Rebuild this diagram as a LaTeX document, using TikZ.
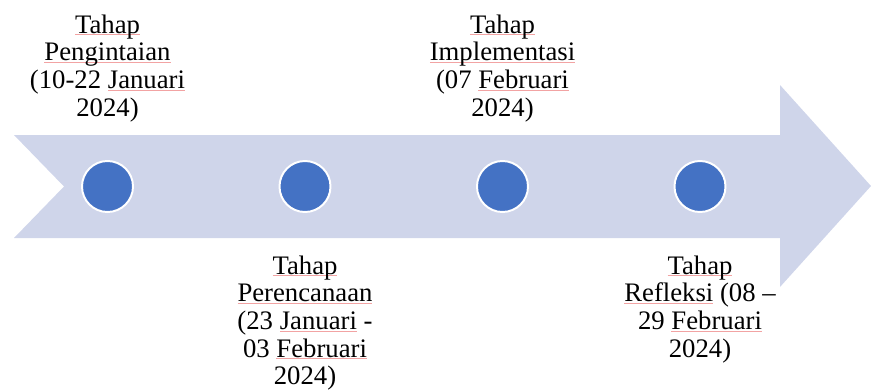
\documentclass[tikz,border=0pt]{standalone}
\usepackage{fontspec}
\setmainfont{Liberation Serif}
\usetikzlibrary{positioning}

\definecolor{bandblue}{HTML}{CFD5EA}
\definecolor{dotblue}{HTML}{4472C4}
\definecolor{spellred}{HTML}{F2A3A3}

\newsavebox{\spellbox}
\newcommand{\spell}[1]{\sbox{\spellbox}{#1}\rlap{\textcolor{spellred}{\rule[-1.2pt]{\wd\spellbox}{0.4pt}}}\usebox{\spellbox}}

\tikzset{
  stage/.style={circle,fill=dotblue,draw=white,line width=1.4pt,minimum size=1.275cm,inner sep=0pt},
  phase/.style={align=center,inner sep=0pt,font=\fontsize{19}{19.6}\selectfont}
}

\begin{document}
\begin{tikzpicture}[x=0.025cm,y=-0.025cm]
\useasboundingbox (0,0) rectangle (871,390);
% the band with its arrow head
\fill[bandblue] (14,135) -- (780,135) -- (780,85) -- (871,186) -- (780,287) -- (780,238) -- (14,238) -- (64,186.5) -- cycle;

\node[stage] (s1) at (107.5,186.5) {};
\node[stage] (s2) at (305,186.5) {};
\node[stage] (s3) at (502.5,186.5) {};
\node[stage] (s4) at (700,186.5) {};

\node[phase,anchor=north] (t1) at (107.5,14.5) {\spell{Tahap}\\ \spell{Pengintaian}\\ (10-22 \spell{Januari}\\ 2024)};
\node[phase,anchor=north] (t3) at (502.5,14.5) {\spell{Tahap}\\ \spell{Implementasi}\\ (07 \spell{Februari}\\ 2024)};
\node[phase,anchor=north] (t2) at (305,255.5) {\spell{Tahap}\\ \spell{Perencanaan}\\ (23 \spell{Januari} -\\ 03 \spell{Februari}\\ 2024)};
\node[phase,anchor=north] (t4) at (700,255.5) {\spell{Tahap}\\ \spell{Refleksi} (08 --\\ 29 \spell{Februari}\\ 2024)};
\end{tikzpicture}
\end{document}
